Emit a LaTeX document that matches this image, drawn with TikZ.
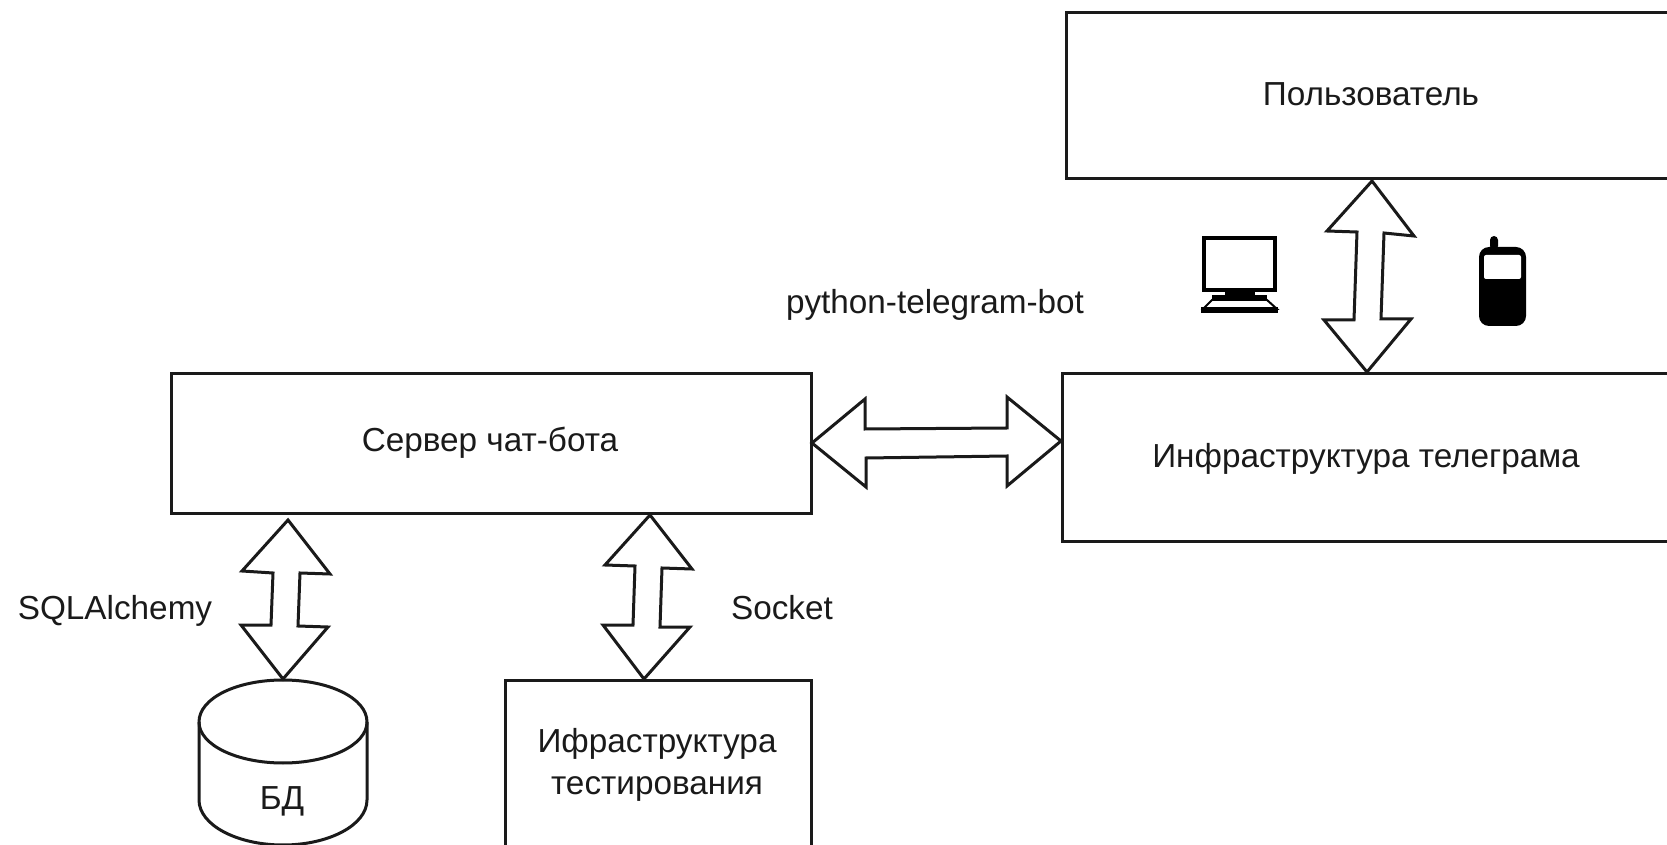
\documentclass[tikz,border=0pt]{standalone}
\usepackage{fontspec}
\setmainfont{Liberation Sans}
\definecolor{ink}{HTML}{1A1A1A}
\tikzset{
  x=0.5pt,y=-0.5pt,
  boxnode/.style={draw=ink,line width=1.5pt,fill=white,inner sep=0pt,outer sep=0pt,font=\fontsize{16.65}{20}\selectfont,text=ink},
  lbl/.style={inner sep=0pt,font=\fontsize{16.65}{20}\selectfont,text=ink},
  blockarrow/.style={draw=ink,line width=1.5pt,fill=white,line join=miter}
}
\begin{document}
\begin{tikzpicture}
\useasboundingbox[fill=white] (0,0) rectangle (1667,845);
\clip (0,0) rectangle (1667,845);
% boxes
\node[boxnode,minimum width=305pt,minimum height=83pt] (user) at (1371,96) {};
\node[lbl] (userT) at (1371,94) {Пользователь};
\node[boxnode,minimum width=304pt,minimum height=83.5pt] (tg) at (1366,457.5) {};
\node[lbl] (tgT) at (1366,459) {Инфраструктура телеграма};
\node[boxnode,minimum width=320pt,minimum height=69.5pt] (srv) at (491,443.5) {};
\node[lbl] (srvT) at (490,443) {Сервер чат-бота};
\node[boxnode,minimum width=153pt,minimum height=84pt] (test) at (658,764) {};
\node[lbl,align=center] (testT) at (657,765) {Ифраструктура\\[1.1pt]тестирования};
% cylinder
\draw[draw=ink,line width=1.5pt,fill=white] (199,722) -- (199,800) .. controls (199,825) and (237,845) .. (283,845) .. controls (329,845) and (367,825) .. (367,800) -- (367,722) .. controls (367,698) and (329,680) .. (283,680) .. controls (237,680) and (199,698) .. (199,722) -- cycle;
\draw[draw=ink,line width=1.5pt] (199,722) .. controls (199,745) and (237,763) .. (283,763) .. controls (329,763) and (367,745) .. (367,722);
\node[lbl] (db) at (282,801) {БД};
% labels
\node[lbl] (ptb) at (935,305) {python-telegram-bot};
\node[lbl] (sql) at (115,611) {SQLAlchemy};
\node[lbl] (sock) at (782,608) {Socket};
% arrows
\coordinate (hL) at (812,443);
\coordinate (hR) at (1061,441);
\coordinate (vT) at (1372,181);
\coordinate (vB) at (1367,372);
\coordinate (aT) at (288,520);
\coordinate (aB) at (283,679);
\coordinate (bT) at (650,515);
\coordinate (bB) at (644,679);
\draw[blockarrow] (hL) -- (865,399) -- (865,429) -- (1007,428) -- (1007,397) -- (hR) -- (1007,486) -- (1007,456) -- (866,458) -- (866,487) -- cycle;
\draw[blockarrow] (vT) -- (1414,236) -- (1384,233) -- (1381,319) -- (1411,319) -- (vB) -- (1324,320) -- (1354,320) -- (1357,232) -- (1327,231) -- cycle;
\draw[blockarrow] (aT) -- (330,574) -- (300,573) -- (298,626) -- (328,627) -- (aB) -- (241,625) -- (271,625) -- (273,573) -- (242,571) -- cycle;
\draw[blockarrow] (bT) -- (692,569) -- (662,568) -- (660,627) -- (690,627) -- (bB) -- (603,625) -- (633,625) -- (635,566) -- (605,565) -- cycle;
% computer icon
\draw[black,line width=2pt,fill=white] (1204,238) rectangle (1275,290);
\fill[black] (1225,291) rectangle (1255,296);
\fill[black] (1212,295) rectangle (1267,301);
\draw[black,line width=1pt,fill=white] (1212,300) -- (1267,300) -- (1277,309) -- (1203,309) -- cycle;
\fill[black] (1201,307) rectangle (1278,313);
% phone icon
\fill[black,rounded corners=2pt] (1490,250) -- (1490,236) -- (1498,236) -- (1498,250) -- cycle;
\fill[black,rounded corners=5pt] (1479,247) rectangle (1526,326);
\fill[white,rounded corners=1pt] (1484,255) rectangle (1521,279);
\end{tikzpicture}
\end{document}
